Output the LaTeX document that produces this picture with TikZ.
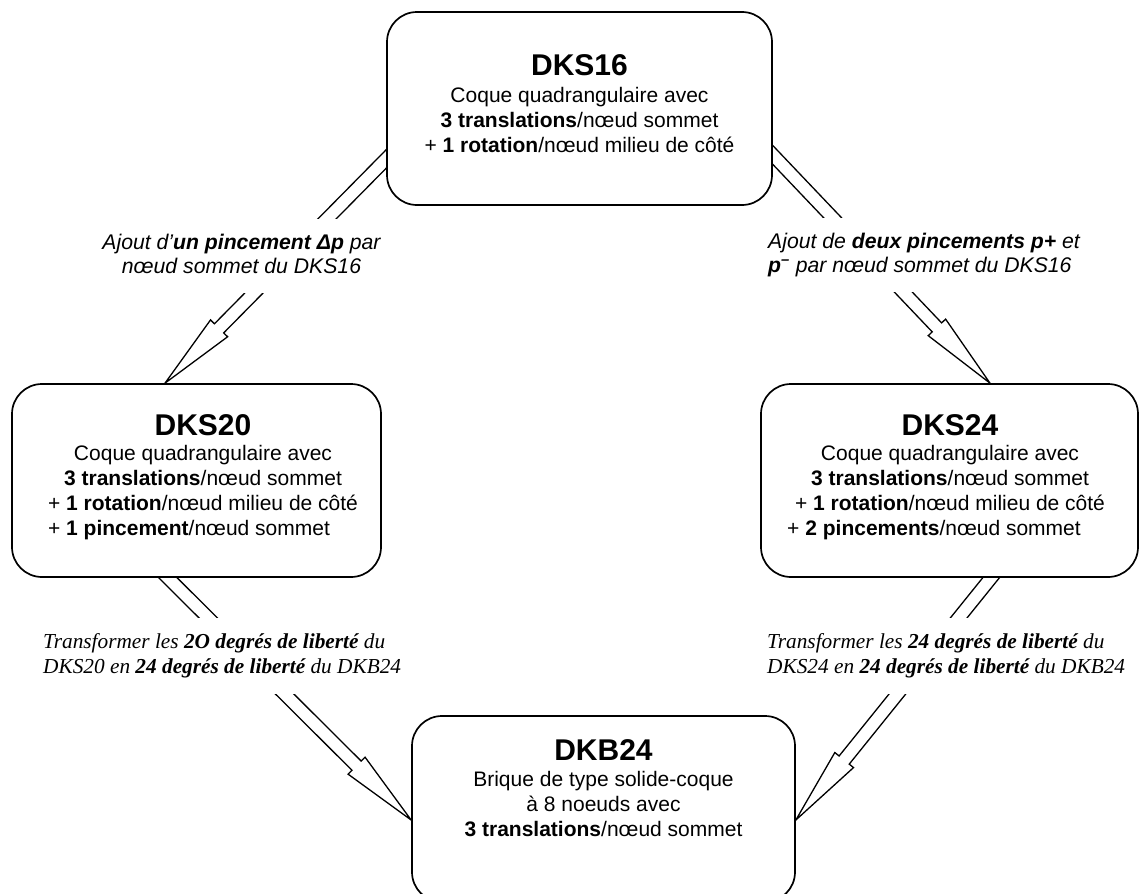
\documentclass[tikz,border=0pt]{standalone}
\usepackage{fontspec}
\setmainfont{Liberation Serif}
\setsansfont{Liberation Sans}
\usetikzlibrary{calc,backgrounds}
\tikzset{
  boxnode/.style={draw, line width=1.7pt, rounded corners=30pt, fill=white, inner sep=0pt},
  boxtext/.style={anchor=base, inner sep=0pt, font=\sffamily\fontsize{21}{25}\selectfont},
  lblsans/.style={fill=white, inner xsep=4pt, inner ysep=13pt, font=\sffamily\itshape\fontsize{21.2}{24}\selectfont},
  lblserif/.style={fill=white, inner xsep=4pt, inner ysep=13pt, font=\rmfamily\itshape\fontsize{21.3}{25}\selectfont},
  arrowline/.style={line width=1.3pt, line join=miter},
}
\newcommand\titlef{\fontsize{30}{30}\selectfont\bfseries}
\newcommand\HArrow[2]{%
  \coordinate (ha-b) at (#2);
  \coordinate (ha-a) at ($(#1)!-20pt!(ha-b)$);
  \coordinate (ha-c) at ($(ha-b)!77pt!(ha-a)$);
  \draw[arrowline] ($(ha-a)!6.5pt!90:(ha-b)$) -- ($(ha-c)!6.5pt!90:(ha-b)$) -- ($(ha-c)!12pt!90:(ha-b)$) -- (ha-b) -- ($(ha-c)!12pt!-90:(ha-b)$) -- ($(ha-c)!6.5pt!-90:(ha-b)$) -- ($(ha-a)!6.5pt!-90:(ha-b)$);
}
\begin{document}
\begin{tikzpicture}[x=1pt,y=-1pt]
\useasboundingbox (0,0) rectangle (1141,894);
% boxes
\node[boxnode, minimum width=385pt, minimum height=193pt] (dks16) at (579.5,108.5) {};
\node[boxnode, minimum width=369pt, minimum height=193pt] (dks20) at (196.5,480.5) {};
\node[boxnode, minimum width=377pt, minimum height=193pt] (dks24) at (949.5,480.5) {};
\node[boxnode, minimum width=383pt, minimum height=186pt] (dkb24) at (603.5,809) {};
% box texts
\node[boxtext] (dks16t) at (579.5,75.5) {\begin{tabular}[t]{@{}c@{}}{\titlef DKS16}\\[1.5pt]
  Coque quadrangulaire avec\\
  \textbf{3 translations}/nœud sommet\\
  + \textbf{1 rotation}/nœud milieu de côté\end{tabular}};
\node[boxtext] (dks20t) at (203,435) {\begin{tabular}[t]{@{}c@{}}{\titlef DKS20}\\
  Coque quadrangulaire avec\\
  \textbf{3 translations}/nœud sommet\\
  + \textbf{1 rotation}/nœud milieu de côté\\
  + \textbf{1 pincement}/nœud sommet\hspace*{28pt}\end{tabular}};
\node[boxtext] (dks24t) at (950,435) {\begin{tabular}[t]{@{}c@{}}{\titlef DKS24}\\
  Coque quadrangulaire avec\\
  \textbf{3 translations}/nœud sommet\\
  + \textbf{1 rotation}/nœud milieu de côté\\
  + \textbf{2 pincements}/nœud sommet\hspace*{32pt}\end{tabular}};
\node[boxtext] (dkb24t) at (603.5,760) {\begin{tabular}[t]{@{}c@{}}{\titlef DKB24}\\[1.5pt]
  Brique de type solide-coque\\
  à 8 noeuds avec\\
  \textbf{3 translations}/nœud sommet\end{tabular}};
% arrow end points
\coordinate (a1s) at ([yshift=-50.5pt]dks16.west);
\coordinate (a1e) at ([xshift=-31.5pt]dks20.north);
\coordinate (a2s) at ([yshift=-46.5pt]dks16.east);
\coordinate (a2e) at ([xshift=40.5pt]dks24.north);
\coordinate (a3s) at ([xshift=-28.5pt]dks20.south);
\coordinate (a3e) at ([yshift=-11pt]dkb24.west);
\coordinate (a4s) at ([xshift=41.5pt]dks24.south);
\coordinate (a4e) at ([yshift=-11pt]dkb24.east);
\begin{pgfonlayer}{background}
  \HArrow{a1s}{a1e}
  \HArrow{a2s}{a2e}
  \HArrow{a3s}{a3e}
  \HArrow{a4s}{a4e}
\end{pgfonlayer}
% labels
\node[lblsans, anchor=base] (lblA) at (241.5,249) {\begin{tabular}[t]{@{}c@{}}Ajout d’\textbf{un pincement Δp} par\\
  nœud sommet du DKS16\end{tabular}};
\node[lblsans, anchor=base west] (lblB) at (764,248) {\begin{tabular}[t]{@{}l@{}}Ajout de \textbf{deux pincements p+} et\\
  \textbf{p}\textsuperscript{\textbf{–}} par nœud sommet du DKS16\end{tabular}};
\node[lblserif, anchor=base west] (lblC) at (39,648) {\begin{tabular}[t]{@{}l@{}}Transformer les \textbf{2O degrés de liberté} du\\
  DKS20 en \textbf{24 degrés de liberté} du DKB24\end{tabular}};
\node[lblserif, anchor=base west] (lblD) at (763,648) {\begin{tabular}[t]{@{}l@{}}Transformer les \textbf{24 degrés de liberté} du\\
  DKS24 en \textbf{24 degrés de liberté} du DKB24\end{tabular}};
\end{tikzpicture}
\end{document}
